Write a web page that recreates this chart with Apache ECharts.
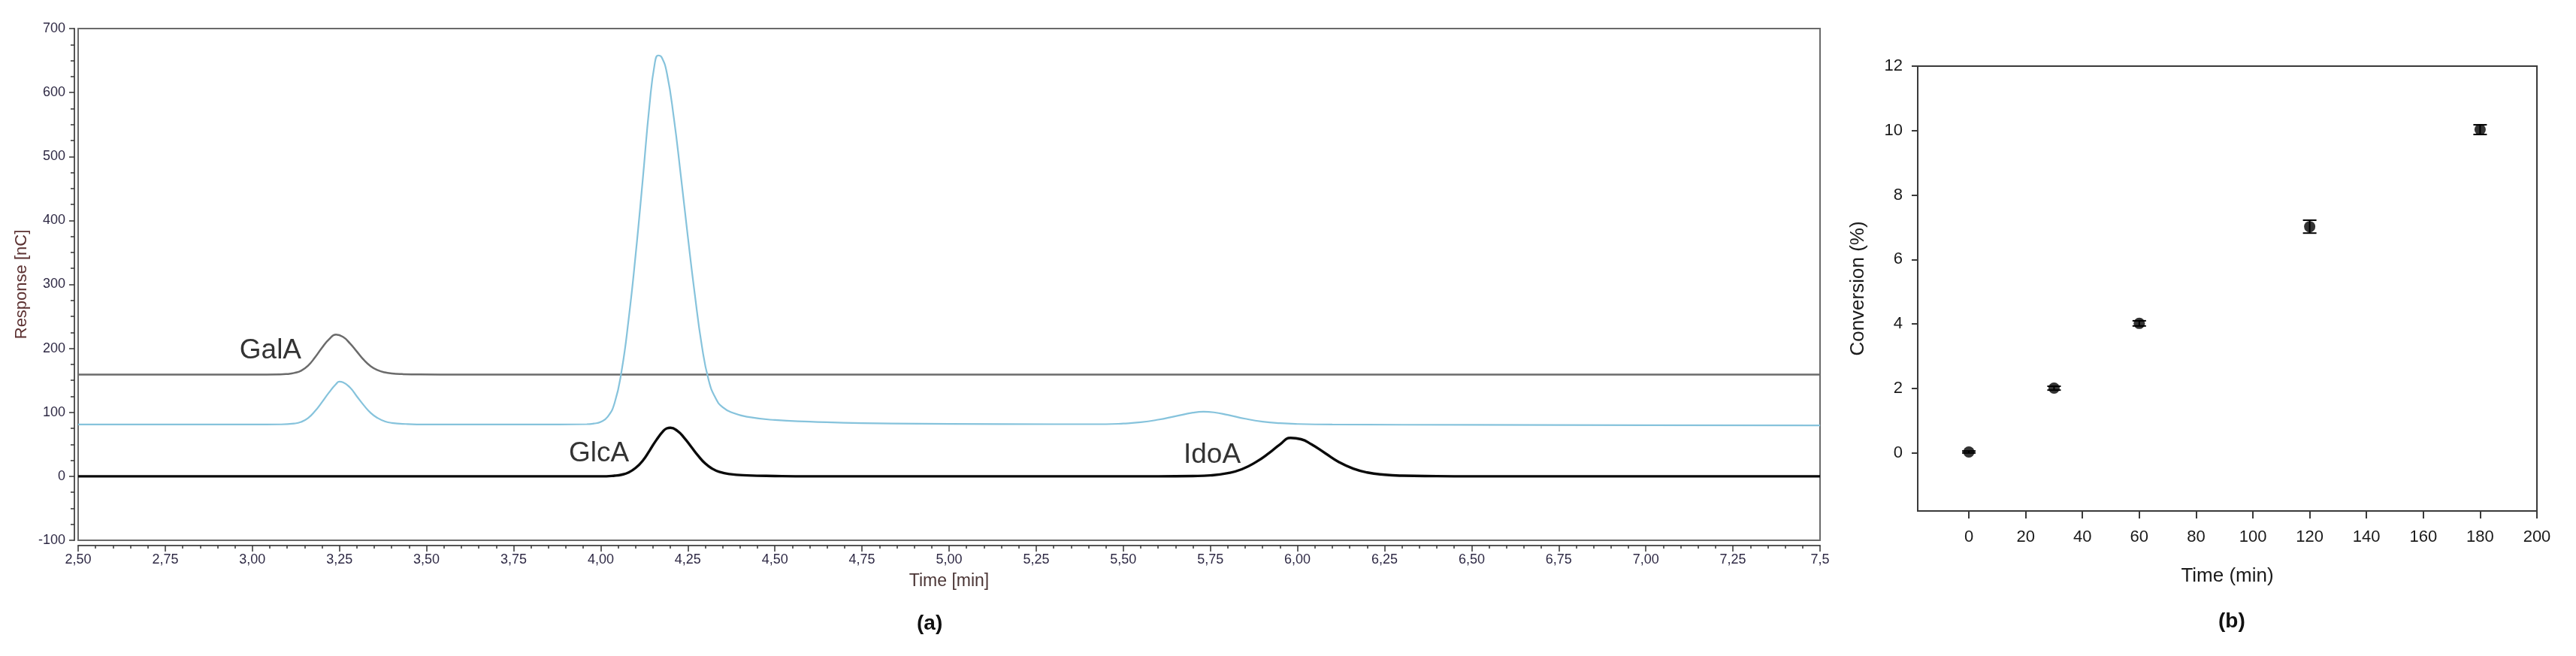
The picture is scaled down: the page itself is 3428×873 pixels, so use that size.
<!DOCTYPE html>
<html>
<head>
<meta charset="utf-8">
<script src="https://cdn.jsdelivr.net/npm/echarts@6/dist/echarts.min.js"></script>
<style>
html,body{margin:0;padding:0;background:#fff;}
#chart{width:3428px;height:873px;}
</style>
</head>
<body>
<div id="chart"></div>
<script>
// ---------- Panel (a): chromatogram traces ----------
const grayT = [2.50, 3.00, 3.08, 3.10, 3.12, 3.14, 3.16, 3.18, 3.20, 3.22, 3.24, 3.26, 3.28, 3.30, 3.32, 3.34, 3.36, 3.38, 3.40, 3.43, 3.48, 3.60, 5.00, 7.50];
const grayV = [159, 159, 159.3, 160, 161.5, 165, 173, 186, 201, 214, 221.5, 218, 208, 195, 182, 172, 166, 162.5, 160.8, 159.8, 159.2, 159, 159, 159];

const blueT = [2.50, 3.00, 3.08, 3.12, 3.14, 3.16, 3.18, 3.20, 3.22, 3.24, 3.25, 3.26, 3.28, 3.30, 3.32, 3.34, 3.36, 3.38, 3.40, 3.44, 3.50, 3.80, 3.96, 3.98, 4.00, 4.02, 4.04, 4.06, 4.08, 4.10, 4.12, 4.14, 4.155, 4.165, 4.175, 4.19, 4.21, 4.23, 4.25, 4.27, 4.29, 4.31, 4.33, 4.35, 4.38, 4.42, 4.50, 4.60, 4.75, 5.00, 5.30, 5.45, 5.50, 5.55, 5.60, 5.65, 5.70, 5.73, 5.76, 5.80, 5.85, 5.90, 5.95, 6.00, 6.10, 6.50, 7.00, 7.50];
const blueV = [81, 81, 81.2, 82.5, 85, 91, 102, 116, 131, 144, 148, 147, 139, 125, 111, 99, 91, 86, 83.5, 81.8, 81, 81, 81.5, 82.5, 85, 93, 115, 165, 245, 345, 460, 580, 645, 658, 655, 630, 560, 470, 375, 285, 205, 150, 122, 108, 99, 93, 88, 85.5, 83, 82, 81.5, 81.5, 82.5, 84.5, 88.5, 94, 99.5, 101, 100, 96, 90, 85.5, 83, 81.8, 81, 80.5, 80, 79.5];

const blackT = [2.50, 4.00, 4.04, 4.06, 4.08, 4.10, 4.12, 4.14, 4.16, 4.18, 4.19, 4.20, 4.22, 4.24, 4.26, 4.28, 4.30, 4.32, 4.34, 4.37, 4.42, 4.50, 4.60, 5.60, 5.70, 5.75, 5.80, 5.84, 5.88, 5.92, 5.95, 5.98, 6.01, 6.04, 6.08, 6.12, 6.16, 6.20, 6.25, 6.30, 6.40, 6.50, 7.50];
const blackV = [0, 0, 1, 2.5, 6, 13, 24, 40, 57, 71, 75, 76, 71, 60, 46, 32, 20, 12, 7, 3.5, 1.5, 0.5, 0, 0, 0.5, 1.5, 5, 11, 22, 37, 50, 60, 58, 50, 36, 22, 12, 6, 2.5, 1, 0.3, 0, 0];

const peakNames = ['GalA', 'GlcA', 'IdoA'];
const peakLabelT = [3.052, 3.995, 5.755];
const peakLabelV = [196, 35, 32.6];

const xTickLabelsA = ['2,50','2,75','3,00','3,25','3,50','3,75','4,00','4,25','4,50','4,75','5,00','5,25','5,50','5,75','6,00','6,25','6,50','6,75','7,00','7,25','7,5'];

// ---------- Panel (b): conversion vs time ----------
const timeMin = [0, 30, 60, 120, 180];
const conversion = [0.03, 2.01, 4.02, 7.02, 10.03];
const conversionErr = [0.03, 0.06, 0.08, 0.2, 0.15];
const xTicksB = [0, 20, 40, 60, 80, 100, 120, 140, 160, 180, 200];
const yTicksB = [0, 2, 4, 6, 8, 10, 12];

const zip = (a, b) => a.map((v, i) => [v, b[i]]);

const chart = echarts.init(document.getElementById('chart'), null, {renderer: 'canvas'});

const labA = {color: '#2e2944', fontSize: 18, fontFamily: 'Liberation Sans, Arial, sans-serif'};
const labB = {color: '#1a1a1a', fontSize: 22, fontFamily: 'Liberation Sans, Arial, sans-serif'};

const option = {
  animation: false,
  backgroundColor: '#fff',
  grid: [
    {left: 104, top: 38, right: 1006, bottom: 154, show: true, borderColor: '#6a6a6a', borderWidth: 2, backgroundColor: 'transparent'},
    {left: 2552, top: 88, right: 52, bottom: 193, show: true, borderColor: '#3a3a3a', borderWidth: 2, backgroundColor: 'transparent'}
  ],
  xAxis: [
    {
      gridIndex: 0, type: 'value', min: 2.5, max: 7.5, interval: 0.25, offset: 7,
      name: 'Time [min]', nameLocation: 'middle', nameGap: 36,
      nameTextStyle: {color: '#4a3535', fontSize: 23, fontFamily: 'Liberation Sans Narrow, Arial Narrow, Liberation Sans, sans-serif'},
      axisLine: {show: true, onZero: false, lineStyle: {color: '#555', width: 2}},
      axisTick: {show: true, inside: false, length: 8, lineStyle: {color: '#333', width: 1.5}},
      minorTick: {show: true, splitNumber: 5, length: 4, lineStyle: {color: '#333', width: 1.5}},
      splitLine: {show: false},
      axisLabel: Object.assign({margin: 10, formatter: v => xTickLabelsA[Math.round((v - 2.5) / 0.25)]}, labA)
    },
    {
      gridIndex: 1, type: 'value', min: -18, max: 200,
      name: 'Time (min)', nameLocation: 'middle', nameGap: 74,
      nameTextStyle: {color: '#1a1a1a', fontSize: 26, fontFamily: 'Liberation Sans, Arial, sans-serif'},
      axisLine: {show: true, onZero: false, lineStyle: {color: '#3a3a3a', width: 2}},
      axisTick: {show: true, length: 10, customValues: xTicksB, lineStyle: {color: '#3a3a3a', width: 2}},
      splitLine: {show: false},
      axisLabel: Object.assign({margin: 24, customValues: xTicksB}, labB)
    }
  ],
  yAxis: [
    {
      gridIndex: 0, type: 'value', min: -100, max: 700, interval: 100, offset: 5,
      name: 'Response [nC]', nameLocation: 'middle', nameGap: 45, nameRotate: 90,
      nameTextStyle: {color: '#5b3030', fontSize: 22, fontFamily: 'Liberation Sans, Arial, sans-serif'},
      axisLine: {show: true, onZero: false, lineStyle: {color: '#555', width: 2}},
      axisTick: {show: true, length: 7, lineStyle: {color: '#333', width: 1.5}},
      minorTick: {show: true, splitNumber: 4, length: 5, lineStyle: {color: '#333', width: 1.5}},
      splitLine: {show: false},
      axisLabel: Object.assign({margin: 12}, labA)
    },
    {
      gridIndex: 1, type: 'value', min: -1.8, max: 12,
      name: 'Conversion (%)', nameLocation: 'middle', nameGap: 66, nameRotate: 90,
      nameTextStyle: {color: '#1a1a1a', fontSize: 26, fontFamily: 'Liberation Sans, Arial, sans-serif'},
      axisLine: {show: true, onZero: false, lineStyle: {color: '#3a3a3a', width: 2}},
      axisTick: {show: true, length: 8, customValues: yTicksB, lineStyle: {color: '#3a3a3a', width: 2}},
      splitLine: {show: false},
      axisLabel: Object.assign({margin: 20, customValues: yTicksB}, labB)
    }
  ],
  series: [
    {
      type: 'line', xAxisIndex: 0, yAxisIndex: 0, data: zip(grayT, grayV),
      showSymbol: false, smooth: 0.5,
      lineStyle: {color: '#6b6b6b', width: 2.5}, z: 3
    },
    {
      type: 'line', xAxisIndex: 0, yAxisIndex: 0, data: zip(blueT, blueV),
      showSymbol: false, smooth: 0.5,
      lineStyle: {color: '#86c3dc', width: 2.2}, z: 3
    },
    {
      type: 'line', xAxisIndex: 0, yAxisIndex: 0, data: zip(blackT, blackV),
      showSymbol: false, smooth: 0.5,
      lineStyle: {color: '#0a0a0a', width: 3.4}, z: 4
    },
    {
      type: 'scatter', xAxisIndex: 0, yAxisIndex: 0,
      data: peakNames.map((n, i) => ({value: [peakLabelT[i], peakLabelV[i]], name: n})),
      symbolSize: 0, silent: true,
      label: {show: true, position: 'inside', formatter: p => p.name, color: '#000', fontSize: 37,
        fontFamily: 'Liberation Sans, Arial, sans-serif'}
    },
    {
      type: 'custom', xAxisIndex: 1, yAxisIndex: 1,
      data: timeMin.map((t, i) => [t, conversion[i], conversionErr[i]]),
      renderItem: function (params, api) {
        const x = api.value(0), y = api.value(1), e = api.value(2);
        const top = api.coord([x, y + e]);
        const bot = api.coord([x, y - e]);
        const hw = 9;
        const st = {stroke: '#000', lineWidth: 2};
        return {
          type: 'group',
          children: [
            {type: 'line', shape: {x1: top[0], y1: top[1], x2: bot[0], y2: bot[1]}, style: st},
            {type: 'line', shape: {x1: top[0] - hw, y1: top[1], x2: top[0] + hw, y2: top[1]}, style: st},
            {type: 'line', shape: {x1: bot[0] - hw, y1: bot[1], x2: bot[0] + hw, y2: bot[1]}, style: st}
          ]
        };
      },
      z: 3
    },
    {
      type: 'scatter', xAxisIndex: 1, yAxisIndex: 1,
      data: zip(timeMin, conversion),
      symbol: 'circle', symbolSize: 15,
      itemStyle: {color: '#000'}, z: 4
    }
  ],
  graphic: [
    {type: 'text', left: 1242 - 22, top: 833 - 17, style: {text: '(a)', fill: '#111', font: 'bold 28px "Liberation Sans", Arial, sans-serif'}},
    {type: 'text', left: 2974 - 22, top: 830 - 17, style: {text: '(b)', fill: '#111', font: 'bold 28px "Liberation Sans", Arial, sans-serif'}}
  ]
};
chart.setOption(option);
</script>
</body>
</html>
